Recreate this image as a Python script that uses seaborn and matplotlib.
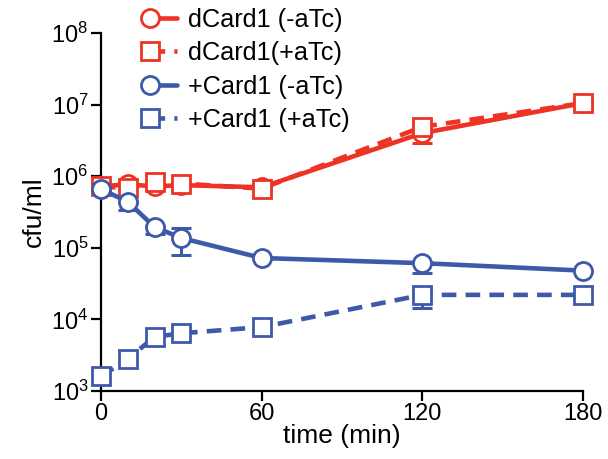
import numpy as np
import pandas as pd
import matplotlib
matplotlib.use("Agg")
import matplotlib.pyplot as plt
from matplotlib.legend_handler import HandlerLine2D
from matplotlib.lines import Line2D
from matplotlib.ticker import FixedLocator, NullLocator, LogFormatterMathtext
import seaborn as sns

# ---- data ----
time_min = [0, 10, 20, 30, 60, 120, 180]
series_names = ["dCard1 (-aTc)", "dCard1(+aTc)", "+Card1 (-aTc)", "+Card1 (+aTc)"]
dcard_minus = [7.2e5, 7.7e5, 7.2e5, 7.5e5, 7.0e5, 4.0e6, 1.05e7]
dcard_plus = [7.2e5, 6.8e5, 8.2e5, 7.9e5, 6.7e5, 4.9e6, 1.05e7]
card_minus = [6.6e5, 4.4e5, 1.95e5, 1.37e5, 7.2e4, 6.1e4, 4.8e4]
card_plus = [1.6e3, 2.8e3, 5.7e3, 6.4e3, 7.8e3, 2.2e4, 2.2e4]
# error bar extents (lower, upper) in cfu/ml; None = no visible bar
dcard_minus_lo = [None, None, None, None, None, 2.9e6, None]
dcard_minus_hi = [None, None, None, None, None, None, None]
dcard_plus_lo = [None, None, None, None, None, None, None]
dcard_plus_hi = [None, None, None, None, None, 5.5e6, None]
card_minus_lo = [None, 3.4e5, 1.55e5, 7.9e4, None, 4.5e4, None]
card_minus_hi = [None, None, None, 1.9e5, None, None, None]
card_plus_lo = [None, None, None, None, None, 1.45e4, None]
card_plus_hi = [None, None, None, None, None, 2.6e4, None]
x_ticks = [0, 60, 120, 180]
y_ticks = [1e3, 1e4, 1e5, 1e6, 1e7, 1e8]

RED = "#EE3325"
BLUE = "#3F59A9"

sns.set_theme(style="ticks")
plt.rcParams["font.family"] = ["Liberation Sans", "DejaVu Sans"]
plt.rcParams["mathtext.fontset"] = "custom"
plt.rcParams["mathtext.rm"] = "Liberation Sans"
plt.rcParams["mathtext.it"] = "Liberation Sans"
plt.rcParams["mathtext.default"] = "regular"

fig = plt.figure(figsize=(6.08, 4.59), dpi=100)
ax = fig.add_axes([101 / 608, 68 / 459, (583 - 101) / 608, (391 - 33) / 459])

specs = [
    (series_names[0], dcard_minus, dcard_minus_lo, dcard_minus_hi, RED, "o", "-"),
    (series_names[1], dcard_plus, dcard_plus_lo, dcard_plus_hi, RED, "s", "--"),
    (series_names[2], card_minus, card_minus_lo, card_minus_hi, BLUE, "o", "-"),
    (series_names[3], card_plus, card_plus_lo, card_plus_hi, BLUE, "s", "--"),
]

handles = []
for i, (name, vals, lo, hi, col, mk, ls) in enumerate(specs):
    t_arr = np.array(time_min, dtype=float)
    v_arr = np.array(vals, dtype=float)
    lo_arr = np.array([v - l if l is not None else 0.0 for v, l in zip(vals, lo)])
    hi_arr = np.array([h - v if h is not None else 0.0 for v, h in zip(vals, hi)])
    mask = (lo_arr > 0) | (hi_arr > 0)
    if mask.any():
        ax.errorbar(t_arr[mask], v_arr[mask], yerr=[lo_arr[mask], hi_arr[mask]],
                    fmt="none", ecolor=col, elinewidth=2.2, capsize=7.5, capthick=2.2,
                    zorder=2 + i * 0.1)
    df = pd.DataFrame({"time": time_min, "cfu": vals})
    sns.lineplot(data=df, x="time", y="cfu", ax=ax, color=col, marker=mk,
                 linestyle=ls, linewidth=3.3, markersize=13 if mk == "o" else 12.5,
                 markerfacecolor="white", markeredgecolor=col, markeredgewidth=2.0,
                 errorbar=None, label=name, clip_on=False, zorder=3 + i * 0.1)
    line = ax.get_lines()[-1]
    if ls == "--":
        line.set_dashes((3.2, 2.0))
    handles.append(line)

ax.set_yscale("log")
ax.set_xlim(0, 180)
ax.set_ylim(1e3, 1e8)
ax.xaxis.set_major_locator(FixedLocator(x_ticks))
ax.yaxis.set_major_locator(FixedLocator(y_ticks))
ax.yaxis.set_major_formatter(LogFormatterMathtext())
ax.yaxis.set_minor_locator(NullLocator())
ax.xaxis.set_minor_locator(NullLocator())
sns.despine(ax=ax)
for sp in ["left", "bottom"]:
    ax.spines[sp].set_linewidth(1.6)
    ax.spines[sp].set_color("black")
ax.tick_params(axis="both", which="major", length=7, width=1.6, color="black",
               labelsize=17, labelcolor="black", pad=2)
ax.set_xlabel("time (min)", fontsize=19, color="black", labelpad=-1)
ax.set_ylabel("cfu/ml", fontsize=19, color="black", labelpad=4)


class LeftMarkerHandler(HandlerLine2D):
    def create_artists(self, legend, orig_handle, xdescent, ydescent, width,
                       height, fontsize, trans):
        artists = super().create_artists(legend, orig_handle, xdescent, ydescent,
                                         width, height, fontsize, trans)
        for a in artists:
            if isinstance(a, Line2D) and a.get_markevery() is not None:
                a.set_markevery([0])
        return artists


leg = ax.legend(handles=handles, labels=series_names, loc="upper left",
                bbox_to_anchor=(150 / 608, 1 - 7.5 / 459), bbox_transform=fig.transFigure,
                frameon=False, fontsize=18.2, handlelength=1.05, handletextpad=0.45,
                labelspacing=0.38, borderpad=0, borderaxespad=0, numpoints=1,
                handler_map={Line2D: LeftMarkerHandler(numpoints=1)})
for t in leg.get_texts():
    t.set_color("black")

fig.savefig("out.png", dpi=100)
